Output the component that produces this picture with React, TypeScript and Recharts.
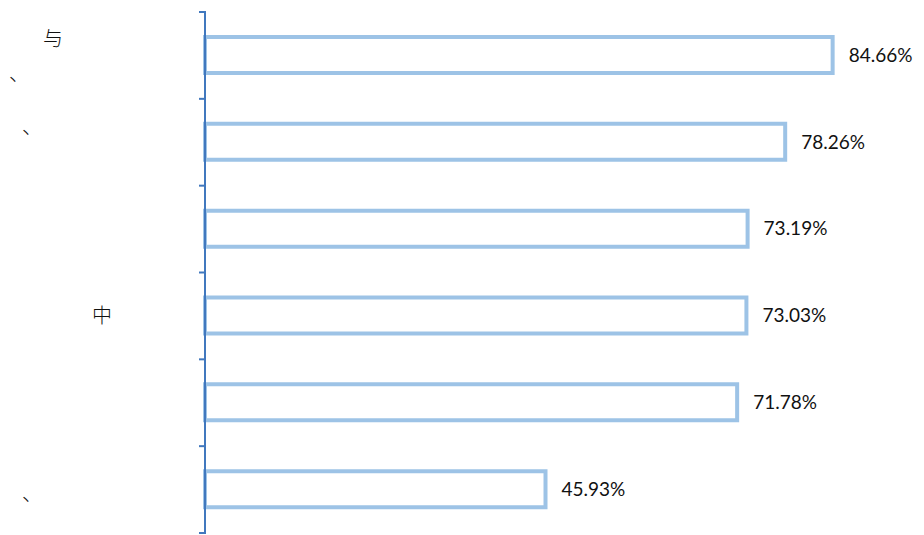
import React from "react";
import { BarChart, Bar, XAxis, YAxis, LabelList } from "recharts";

const categories = ["c1", "c2", "c3", "c4", "c5", "c6"];
const values = [84.66, 78.26, 73.19, 73.03, 71.78, 45.93];
// visible glyphs of each category label
const labelGlyphs: string[][] = [["与", "、"], ["、"], [], ["中"], [], ["、"]];

// placement of each glyph (x from chart left, dy from tick centre)
const glyphPlacement: { x: number; dy: number }[][] = [
  [{ x: 43, dy: -9 }, { x: 9, dy: 26 }],
  [{ x: 22, dy: -8 }],
  [],
  [{ x: 92, dy: 7 }],
  [],
  [{ x: 22, dy: 11 }],
];

const data = categories.map((c, i) => ({ name: c, value: values[i] }));

const W = 916;
const H = 527;
const margin = { top: 4, right: 54, bottom: 2, left: 0 };
const band = (H - margin.top - margin.bottom) / categories.length;
const axisColor = "#4178BE";

const Tick = (props: any) => {
  const { x, y, index } = props;
  const glyphs = labelGlyphs[index] || [];
  const place = glyphPlacement[index] || [];
  const ax = x + 9;
  return (
    <g>
      <line x1={ax - 7} x2={ax} y1={y - band / 2} y2={y - band / 2} stroke={axisColor} strokeWidth={2} />
      {index === categories.length - 1 && (
        <line x1={ax - 7} x2={ax} y1={y + band / 2} y2={y + band / 2} stroke={axisColor} strokeWidth={2} />
      )}
      {glyphs.map((g, k) => (
        <text
          key={k}
          x={place[k].x - 8}
          y={y + place[k].dy}
          fontSize={20}
          fontWeight={300}
          fontFamily="'Noto Sans CJK SC', sans-serif"
          fill="#111"
        >
          {g}
        </text>
      ))}
    </g>
  );
};

export default function App() {
  return (
    <div style={{ width: W, height: H, background: "#fff" }}>
      <BarChart width={W} height={H} data={data} layout="vertical" margin={margin} barSize={36}>
        <XAxis type="number" domain={[0, 89.7]} hide />
        <YAxis
          type="category"
          dataKey="name"
          width={197}
          axisLine={{ stroke: axisColor, strokeWidth: 2 }}
          tickLine={false}
          tick={<Tick />}
          interval={0}
        />
        <Bar dataKey="value" fill="#ffffff" stroke="#9DC3E6" strokeWidth={4} isAnimationActive={false}>
          <LabelList
            dataKey="value"
            position="right"
            offset={16}
            formatter={(v: any) => Number(v).toFixed(2) + "%"}
            style={{ fontFamily: "Lato, 'Open Sans', sans-serif", fontSize: 19, fill: "#111" }}
          />
        </Bar>
      </BarChart>
    </div>
  );
}
